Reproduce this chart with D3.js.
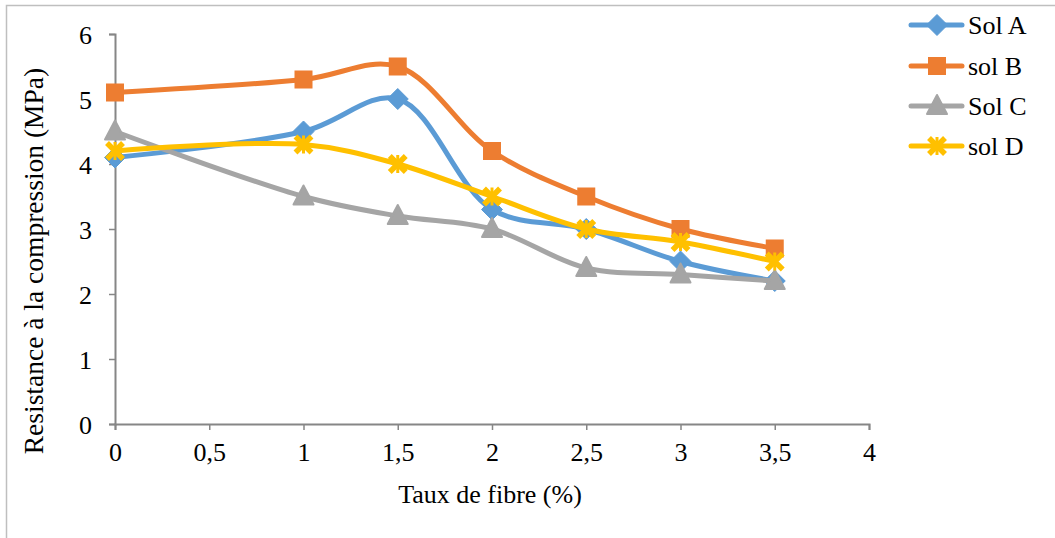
<!DOCTYPE html>
<html><head><meta charset="utf-8">
<script src="https://cdn.jsdelivr.net/npm/d3@7"></script>
<style>body{margin:0;background:#fff;} svg{display:block;font-family:"Liberation Serif","Times New Roman",serif;}</style>
</head><body><svg id="c" width="1055" height="538"></svg>
<script>
const xValues = [0, 1, 1.5, 2, 2.5, 3, 3.5];
const solA = [4.1, 4.5, 5.0, 3.3, 3.0, 2.5, 2.2];
const solB = [5.1, 5.3, 5.5, 4.2, 3.5, 3.0, 2.7];
const solC = [4.5, 3.5, 3.2, 3.0, 2.4, 2.3, 2.2];
const solD = [4.2, 4.3, 4.0, 3.5, 3.0, 2.8, 2.5];
const seriesNames = ["Sol A", "sol B", "Sol C", "sol D"];
const seriesColors = ["#5B9BD5", "#ED7D31", "#A5A5A5", "#FFC000"];
const seriesMarkers = ["diamond", "square", "triangle", "cross"];
const xTicks = [0, 0.5, 1, 1.5, 2, 2.5, 3, 3.5, 4];
const yTicks = [0, 1, 2, 3, 4, 5, 6];
const xTitle = "Taux de fibre (%)";
const yTitle = "Resistance à la compression (MPa)";

const series = [solA, solB, solC, solD].map((v, i) => ({
  name: seriesNames[i], color: seriesColors[i], marker: seriesMarkers[i],
  pts: v.map((y, j) => [xValues[j], y])
}));

const FS = "26px";
const svg = d3.select("#c");
svg.append("rect").attr("x", 6.5).attr("y", 5.5).attr("width", 1100).attr("height", 600)
  .attr("fill", "none").attr("stroke", "#BFBFBF").attr("stroke-width", 1.5);

const x = d3.scaleLinear().domain([0, 4]).range([115, 869]);
const y = d3.scaleLinear().domain([0, 6]).range([424, 34]);
const axisColor = "#868686";

const fmt = d => String(d).replace(".", ",");
const gx = svg.append("g").attr("transform", `translate(0,${y(0)})`)
  .call(d3.axisBottom(x).tickValues(xTicks).tickFormat(fmt).tickSize(6).tickPadding(13));
const gy = svg.append("g").attr("transform", `translate(${x(0)},0)`)
  .call(d3.axisLeft(y).tickValues(yTicks).tickFormat(fmt).tickSize(6).tickPadding(17));
[gx, gy].forEach(g => {
  g.attr("font-size", null).attr("font-family", null);
  g.select(".domain").attr("stroke", axisColor).attr("stroke-width", 2);
  g.selectAll(".tick line").attr("stroke", axisColor).attr("stroke-width", 1.5);
  g.selectAll(".tick text").attr("fill", "#000").attr("font-size", FS).style("font-size", FS)
    .style("font-family", '"Liberation Serif", serif');
});
gy.selectAll(".tick text").attr("dy", "0.35em");

svg.append("text").attr("x", 490).attr("y", 503).attr("text-anchor", "middle")
  .style("font-size", "26px").text(xTitle);
svg.append("text").attr("transform", `translate(43,261) rotate(-90)`).attr("text-anchor", "middle")
  .style("font-size", "27.5px").text(yTitle);

const line = d3.line().x(d => x(d[0])).y(d => y(d[1])).curve(d3.curveCatmullRom.alpha(0.5));

function marker(g, type, color, cx, cy) {
  if (type === "diamond") {
    g.append("path").attr("d", `M${cx},${cy-10.5}L${cx+10.5},${cy}L${cx},${cy+10.5}L${cx-10.5},${cy}Z`).attr("fill", color)
      .attr("stroke", color).attr("stroke-width", 1).attr("stroke-linejoin", "round");
  } else if (type === "square") {
    g.append("rect").attr("x", cx-9).attr("y", cy-9).attr("width", 18).attr("height", 18).attr("fill", color);
  } else if (type === "triangle") {
    g.append("path").attr("d", `M${cx},${cy-11}L${cx+10},${cy+8}L${cx-10},${cy+8}Z`).attr("fill", color)
      .attr("stroke", color).attr("stroke-width", 2).attr("stroke-linejoin", "round");
  } else {
    g.append("path").attr("d", `M${cx-8},${cy-8}L${cx+8},${cy+8}M${cx+8},${cy-8}L${cx-8},${cy+8}`)
      .attr("stroke", color).attr("stroke-width", 5.5);
    g.append("path").attr("d", `M${cx},${cy-9}L${cx},${cy+9}`).attr("stroke", color).attr("stroke-width", 3);
  }
}

series.forEach(s => {
  const g = svg.append("g");
  g.append("path").attr("d", line(s.pts)).attr("fill", "none").attr("stroke", s.color)
    .attr("stroke-width", 5).attr("stroke-linecap", "round");
  s.pts.forEach(p => marker(g, s.marker, s.color, x(p[0]), y(p[1])));
});

const legY = [25, 66, 106, 146];
series.forEach((s, i) => {
  const g = svg.append("g");
  g.append("line").attr("x1", 911).attr("x2", 962).attr("y1", legY[i]).attr("y2", legY[i])
    .attr("stroke", s.color).attr("stroke-width", 5).attr("stroke-linecap", "round");
  marker(g, s.marker, s.color, 937, legY[i]);
  g.append("text").attr("x", 968).attr("y", legY[i]).attr("dy", "0.35em")
    .style("font-size", FS).text(s.name);
});
</script></body></html>
